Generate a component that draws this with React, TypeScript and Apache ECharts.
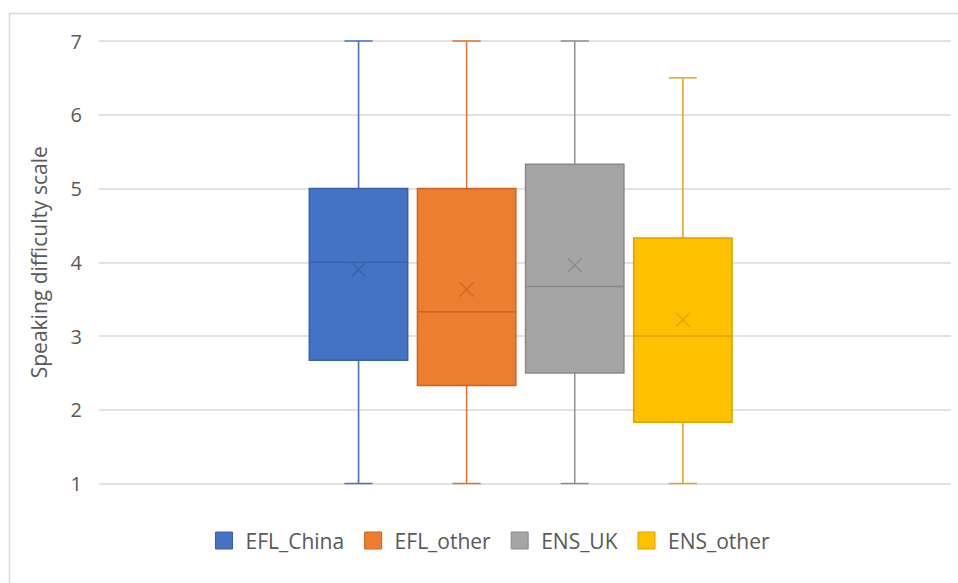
import React, { useEffect, useRef } from "react";
import * as echarts from "echarts";

// Box-plot summary per learner group (1–7 speaking difficulty scale)
const groups = ["EFL_China", "EFL_other", "ENS_UK", "ENS_other"];
const minValues = [1, 1, 1, 1];
const q1Values = [2.67, 2.33, 2.5, 1.83];
const medianValues = [4, 3.33, 3.67, 3];
const q3Values = [5, 5, 5.33, 4.33];
const maxValues = [7, 7, 7, 6.5];
const meanValues = [3.9, 3.63, 3.96, 3.22];

const yTicks = [1, 2, 3, 4, 5, 6, 7];

const fills = ["#4472C4", "#ED7D31", "#A5A5A5", "#FFC000"];
const borders = ["#3761AC", "#CC6422", "#898989", "#D9A300"];
const whiskers = ["#4A72BE", "#DE7431", "#8F8F8F", "#D8A82C"];

const FONT = "'Open Sans', 'Noto Sans', sans-serif";
const BOX_WIDTH = 0.91; // in category-index units
const CAP_WIDTH = 0.26;
const MARK_SIZE = 7;

export default function App() {
  const ref = useRef<HTMLDivElement>(null);

  useEffect(() => {
    if (!ref.current) return;
    const chart = echarts.init(ref.current, undefined, { renderer: "svg" });

    const series = groups.map((name, i) => ({
      name,
      type: "custom",
      itemStyle: { color: fills[i], borderColor: borders[i], borderWidth: 1 },
      encode: { x: 0, y: [1, 2, 3, 4, 5, 6] },
      data: [[i, minValues[i], q1Values[i], medianValues[i], q3Values[i], maxValues[i], meanValues[i]]],
      renderItem: (params: any, api: any) => {
        const x = api.value(0);
        const pMin = api.coord([x, api.value(1)]);
        const pQ1 = api.coord([x, api.value(2)]);
        const pMed = api.coord([x, api.value(3)]);
        const pQ3 = api.coord([x, api.value(4)]);
        const pMax = api.coord([x, api.value(5)]);
        const pMean = api.coord([x, api.value(6)]);
        const half = api.size([BOX_WIDTH, 0])[0] / 2;
        const capHalf = api.size([CAP_WIDTH, 0])[0] / 2;
        const cx = pMin[0];
        const wStyle = { stroke: whiskers[i], lineWidth: 1.5 };
        return {
          type: "group",
          children: [
            { type: "line", shape: { x1: cx, y1: pMax[1], x2: cx, y2: pQ3[1] }, style: wStyle },
            { type: "line", shape: { x1: cx, y1: pQ1[1], x2: cx, y2: pMin[1] }, style: wStyle },
            { type: "line", shape: { x1: cx - capHalf, y1: pMax[1], x2: cx + capHalf, y2: pMax[1] }, style: wStyle },
            { type: "line", shape: { x1: cx - capHalf, y1: pMin[1], x2: cx + capHalf, y2: pMin[1] }, style: wStyle },
            {
              type: "rect",
              shape: { x: cx - half, y: pQ3[1], width: half * 2, height: pQ1[1] - pQ3[1] },
              style: { fill: fills[i], stroke: borders[i], lineWidth: 1.5 },
            },
            {
              type: "line",
              shape: { x1: cx - half, y1: pMed[1], x2: cx + half, y2: pMed[1] },
              style: { stroke: borders[i], lineWidth: 1.5 },
            },
            {
              type: "line",
              shape: { x1: cx - MARK_SIZE, y1: pMean[1] - MARK_SIZE, x2: cx + MARK_SIZE, y2: pMean[1] + MARK_SIZE },
              style: { stroke: borders[i], lineWidth: 1.5, opacity: 0.85 },
            },
            {
              type: "line",
              shape: { x1: cx - MARK_SIZE, y1: pMean[1] + MARK_SIZE, x2: cx + MARK_SIZE, y2: pMean[1] - MARK_SIZE },
              style: { stroke: borders[i], lineWidth: 1.5, opacity: 0.85 },
            },
          ],
        };
      },
    }));

    chart.setOption({
      animation: false,
      backgroundColor: "#ffffff",
      textStyle: { fontFamily: FONT },
      graphic: [
        {
          type: "rect",
          shape: { x: 9.5, y: 13.5, width: 980, height: 600 },
          style: { fill: "none", stroke: "#d9d9d9", lineWidth: 1.5 },
          silent: true,
        },
      ],
      grid: { left: 99, top: 41, width: 852, height: 442.5 },
      legend: {
        left: 215,
        top: 530,
        padding: 0,
        icon: "rect",
        itemWidth: 17,
        itemHeight: 17,
        itemGap: 20,
        textStyle: { color: "#595959", fontSize: 21, fontFamily: FONT, padding: [0, 0, 0, 8] },
        data: groups.map((name, i) => ({
          name,
          itemStyle: { color: fills[i], borderColor: borders[i], borderWidth: 1 },
        })),
      },
      xAxis: {
        type: "value",
        min: -2.4,
        max: 5.48,
        show: false,
      },
      yAxis: {
        type: "value",
        min: yTicks[0],
        max: yTicks[yTicks.length - 1],
        interval: 1,
        name: "Speaking difficulty scale",
        nameLocation: "middle",
        nameRotate: 90,
        nameGap: 50,
        nameTextStyle: { color: "#595959", fontSize: 21, fontFamily: FONT },
        axisLine: { show: true, lineStyle: { color: "#d9d9d9", width: 1.5 } },
        axisTick: { show: false },
        axisLabel: { color: "#595959", fontSize: 20, fontFamily: FONT, margin: 17 },
        splitLine: { lineStyle: { color: "#d9d9d9", width: 1.5 } },
      },
      series,
    });

    return () => chart.dispose();
  }, []);

  return (
    <div
      ref={ref}
      style={{ position: "fixed", left: 0, top: 0, width: 958, height: 583, background: "#fff" }}
    />
  );
}
